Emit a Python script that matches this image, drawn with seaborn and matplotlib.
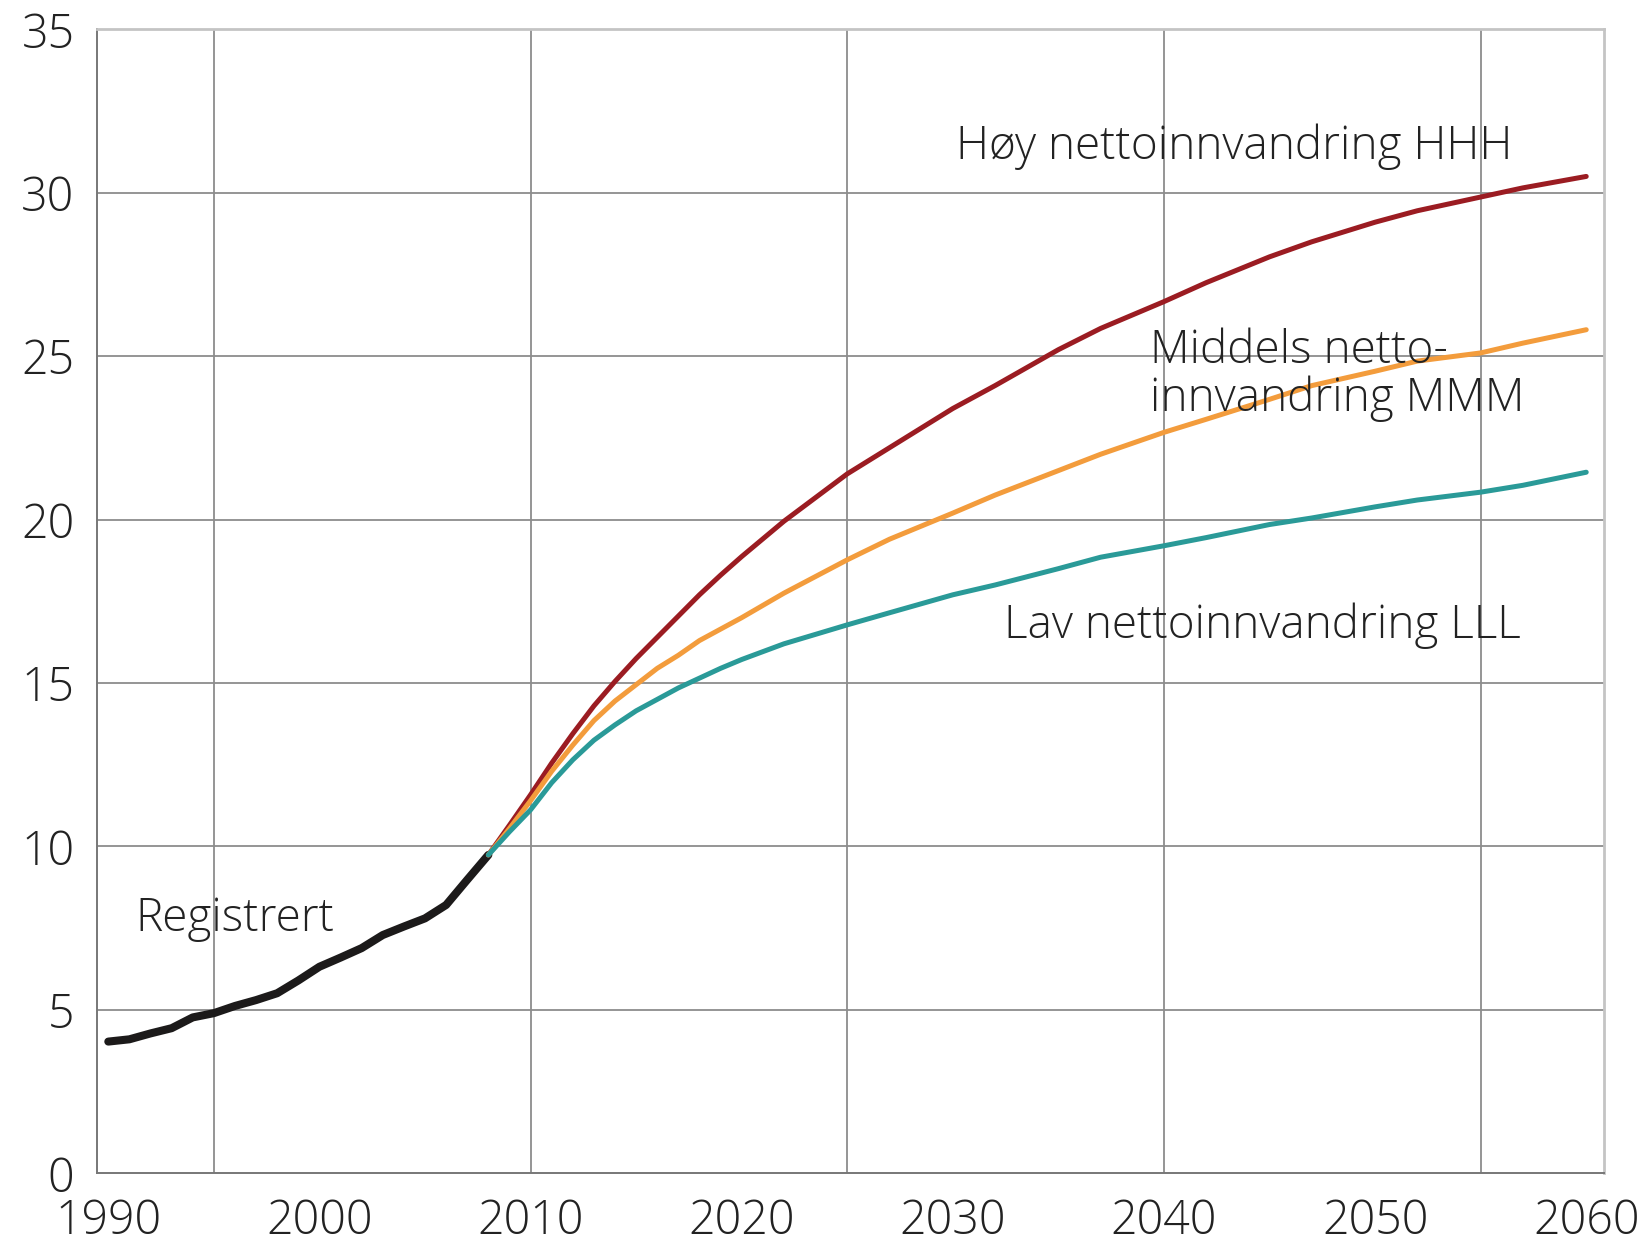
import numpy as np
import pandas as pd
import matplotlib.pyplot as plt
import seaborn as sns

# registered history
reg_years = list(range(1990, 2009))
reg_values = [4.03, 4.10, 4.28, 4.44, 4.77, 4.90, 5.12, 5.30, 5.51, 5.90,
              6.32, 6.60, 6.89, 7.29, 7.55, 7.80, 8.21, 8.98, 9.74]

# projections
proj_years = [2008, 2009, 2010, 2011, 2012, 2013, 2014, 2015, 2016, 2017,
              2018, 2019, 2020, 2022, 2025, 2027, 2030, 2032, 2035, 2037,
              2040, 2042, 2045, 2047, 2050, 2052, 2055, 2057, 2060]
hhh = [9.74, 10.65, 11.58, 12.55, 13.45, 14.30, 15.05, 15.75, 16.40, 17.05,
       17.70, 18.30, 18.87, 19.95, 21.40, 22.20, 23.40, 24.10, 25.20, 25.85,
       26.67, 27.25, 28.04, 28.50, 29.10, 29.45, 29.87, 30.15, 30.50]
mmm = [9.74, 10.55, 11.40, 12.30, 13.10, 13.85, 14.45, 14.95, 15.45, 15.85,
       16.30, 16.65, 17.00, 17.75, 18.77, 19.40, 20.20, 20.75, 21.50, 22.00,
       22.67, 23.07, 23.68, 24.10, 24.54, 24.85, 25.10, 25.40, 25.81]
lll = [9.74, 10.45, 11.12, 11.95, 12.65, 13.25, 13.72, 14.15, 14.50, 14.85,
       15.15, 15.45, 15.72, 16.20, 16.78, 17.15, 17.70, 18.00, 18.50, 18.85,
       19.20, 19.45, 19.85, 20.05, 20.39, 20.60, 20.84, 21.05, 21.45]

x_labels = [1990, 2000, 2010, 2020, 2030, 2040, 2050, 2060]
x_minor = list(range(1990, 2061, 5))
grid_years = [1995, 2010, 2025, 2040, 2055]
y_ticks = [0, 5, 10, 15, 20, 25, 30, 35]

sns.set_style("white")
plt.rcParams['font.family'] = ['Open Sans', 'DejaVu Sans']
plt.rcParams['font.weight'] = 'light'

fig = plt.figure(figsize=(16.47, 12.49), dpi=100)
ax = fig.add_axes([0.0587, 0.0606, 0.974 - 0.0587, 0.9765 - 0.0606])

grid_col = "#8c8c8c"
for y in y_ticks[1:-1]:
    ax.axhline(y, color=grid_col, lw=1.3, zorder=0)
for x in grid_years:
    ax.axvline(x, color=grid_col, lw=1.3, zorder=0)

sns.lineplot(x=reg_years, y=reg_values, color="#1c1a1a", lw=5.8, ax=ax,
             solid_capstyle="round", solid_joinstyle="round")
for vals, col in [(hhh, "#9b1c22"), (mmm, "#f39c3c"), (lll, "#2a9a98")]:
    sns.lineplot(x=proj_years, y=vals, color=col, lw=3.6, ax=ax,
                 solid_joinstyle="round", solid_capstyle="round")

ax.set_xlim(1989.45, 2060.85)
ax.set_ylim(0, 35)

ax.set_xticks(x_labels)
ax.set_xticks(x_minor, minor=True)
ax.set_yticks(y_ticks)
ax.tick_params(axis="x", which="both", direction="in", length=24,
               width=1.2, color="#777777")
ax.tick_params(axis="x", which="major", labelsize=33.5, pad=17.5,
               labelcolor="#222222")
ax.tick_params(axis="y", length=0, labelsize=33.5, pad=16,
               labelcolor="#222222")

for side in ["left", "bottom"]:
    ax.spines[side].set_color("#777777")
    ax.spines[side].set_linewidth(1.4)
for side in ["top", "right"]:
    ax.spines[side].set_color("#c4c4c4")
    ax.spines[side].set_linewidth(2.0)

txt = dict(fontsize=33, color="#222222", ha="left", va="baseline")
ax.text(2030.16, 31.03, "Høy nettoinnvandring HHH", **txt)
ax.text(2039.36, 24.8, "Middels netto-", **txt)
ax.text(2039.36, 23.33, "innvandring MMM", **txt)
ax.text(2032.41, 16.38, "Lav nettoinnvandring LLL", **txt)
ax.text(1991.27, 7.4, "Registrert", **txt)

fig.savefig("out.png", dpi=100)
